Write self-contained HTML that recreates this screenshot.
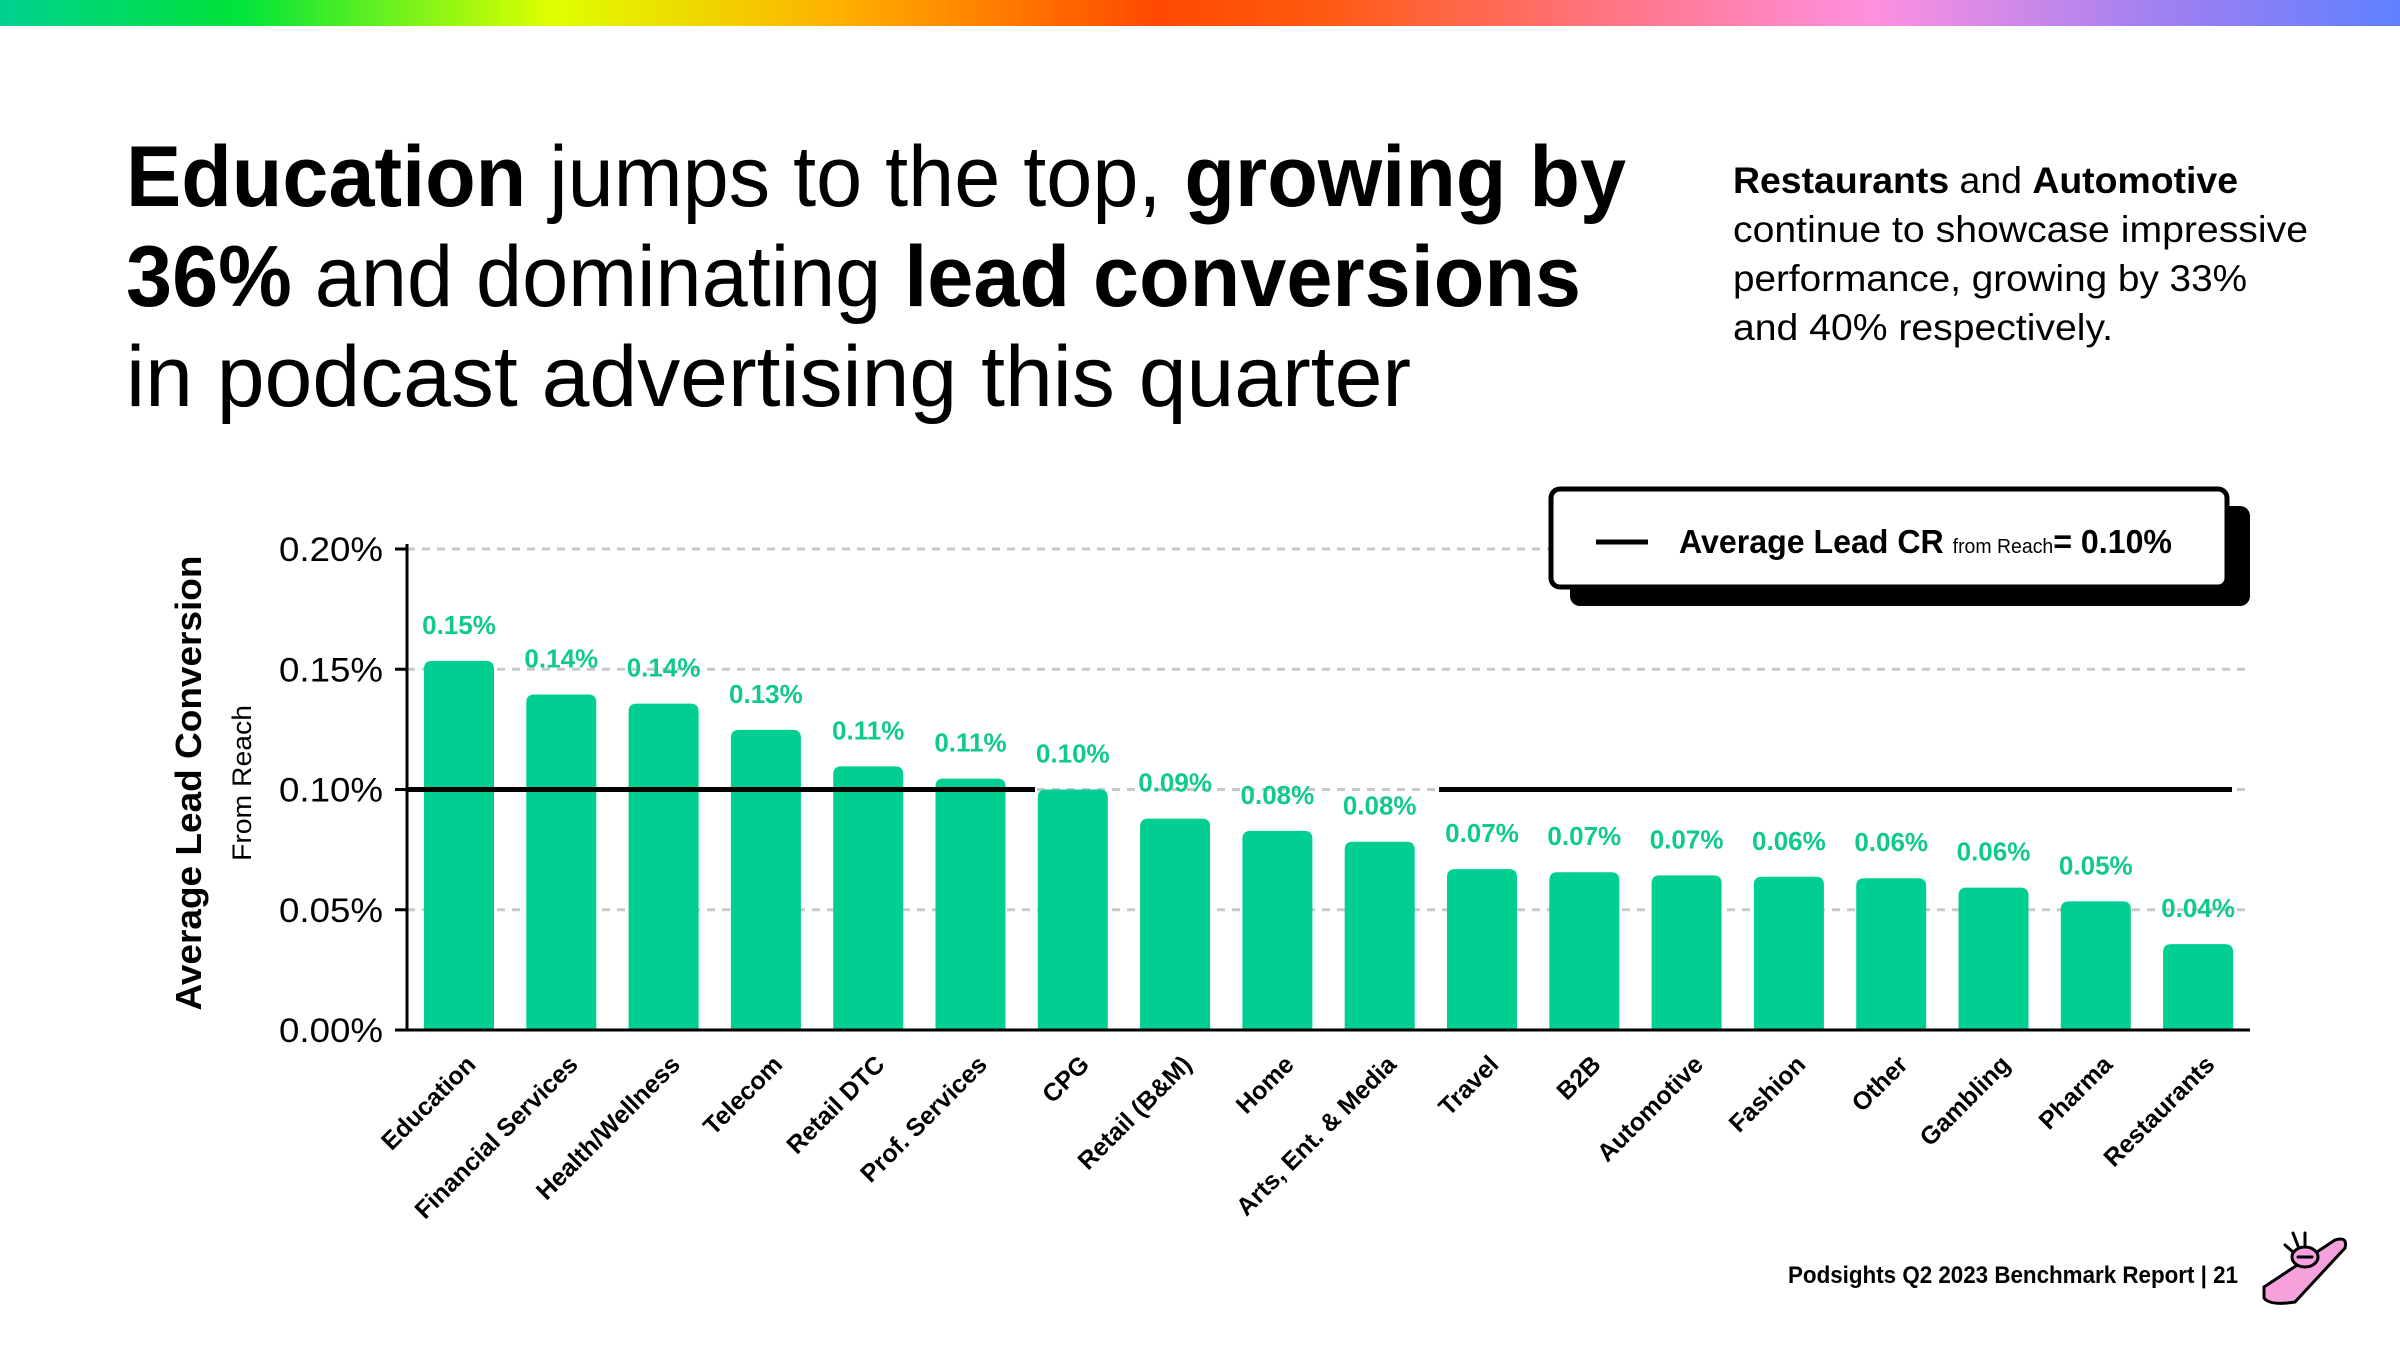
<!DOCTYPE html>
<html><head><meta charset="utf-8"><style>
html,body{margin:0;padding:0;background:#fff;}
body{width:2400px;height:1350px;overflow:hidden;position:relative;font-family:"Liberation Sans",sans-serif;}
svg{position:absolute;left:0;top:0;}
</style></head><body>
<svg id="chart" width="2400" height="1350" viewBox="0 0 2400 1350">
<defs>
<linearGradient id="rb" x1="0" x2="1" y1="0" y2="0">
<stop offset="0" stop-color="#00d08f"/><stop offset="0.1" stop-color="#00e43a"/><stop offset="0.23" stop-color="#dfff00"/><stop offset="0.35" stop-color="#ffb000"/><stop offset="0.48" stop-color="#ff4a00"/><stop offset="0.55" stop-color="#ff5a10"/><stop offset="0.65" stop-color="#ff7070"/><stop offset="0.78" stop-color="#ff90e0"/><stop offset="0.9" stop-color="#a080f0"/><stop offset="1" stop-color="#6080ff"/>
</linearGradient>
</defs>
<rect x="0" y="0" width="2400" height="26" fill="url(#rb)"/>
<g font-size="86" fill="#000">
<text x="126" y="206" textLength="1500" lengthAdjust="spacingAndGlyphs"><tspan font-weight="bold">Education</tspan> jumps to the top, <tspan font-weight="bold">growing by</tspan></text>
<text x="126" y="306" textLength="1455" lengthAdjust="spacingAndGlyphs"><tspan font-weight="bold">36%</tspan> and dominating <tspan font-weight="bold">lead conversions</tspan></text>
<text x="126" y="406" textLength="1285" lengthAdjust="spacingAndGlyphs">in podcast advertising this quarter</text>
</g>
<g font-size="37" fill="#000">
<text x="1733" y="193" textLength="505" lengthAdjust="spacingAndGlyphs"><tspan font-weight="bold">Restaurants</tspan> and <tspan font-weight="bold">Automotive</tspan></text>
<text x="1733" y="242" textLength="575" lengthAdjust="spacingAndGlyphs">continue to showcase impressive</text>
<text x="1733" y="291" textLength="514" lengthAdjust="spacingAndGlyphs">performance, growing by 33%</text>
<text x="1733" y="340" textLength="380" lengthAdjust="spacingAndGlyphs">and 40% respectively.</text>
</g>
<g id="plot"></g>
<g>
<rect x="1570" y="506" width="680" height="100" rx="10" fill="#000"/>
<rect x="1551" y="489" width="676" height="98" rx="9" fill="#fff" stroke="#000" stroke-width="5"/>
<line x1="1596" y1="542" x2="1648" y2="542" stroke="#000" stroke-width="5"/>
<text x="1679" y="553" font-size="33" font-weight="bold" textLength="493" lengthAdjust="spacingAndGlyphs">Average Lead CR <tspan font-size="20" font-weight="normal">from Reach</tspan>= 0.10%</text>
</g>
<text x="2238" y="1283" font-size="24" font-weight="bold" text-anchor="end" textLength="450" lengthAdjust="spacingAndGlyphs">Podsights Q2 2023 Benchmark Report | 21</text>
<g stroke="#000" stroke-width="3" stroke-linecap="round">
<path d="M2264 1287 L2335 1240 Q2348 1236 2345 1248 L2295 1302 Q2270 1306 2264 1298 Z" fill="#f7a1dc"/>
<ellipse cx="2305" cy="1257" rx="13" ry="10" fill="#f7a1dc"/>
<line x1="2298" y1="1257" x2="2312" y2="1257"/>
<line x1="2285" y1="1245" x2="2293" y2="1252"/>
<line x1="2293" y1="1233" x2="2298" y2="1246"/>
<line x1="2305" y1="1233" x2="2305" y2="1245"/>
</g>
</svg>
<script>
const categories = ["Education","Financial Services","Health/Wellness","Telecom","Retail DTC","Prof. Services","CPG","Retail (B&M)","Home","Arts, Ent. & Media","Travel","B2B","Automotive","Fashion","Other","Gambling","Pharma","Restaurants"];
const values = [0.1535,0.1395,0.1357,0.1248,0.1096,0.1045,0.1000,0.0879,0.0828,0.0783,0.0669,0.0656,0.0643,0.0637,0.0631,0.0592,0.0535,0.0357];
const valueLabels = ["0.15%","0.14%","0.14%","0.13%","0.11%","0.11%","0.10%","0.09%","0.08%","0.08%","0.07%","0.07%","0.07%","0.06%","0.06%","0.06%","0.05%","0.04%"];
const yTicks = [0,0.05,0.10,0.15,0.20];
const yTickLabels = ["0.00%","0.05%","0.10%","0.15%","0.20%"];
const average = 0.10;

const NS = "http://www.w3.org/2000/svg";
const plot = document.getElementById("plot");
const X0 = 407, X1 = 2250, Y0 = 1030, Y1 = 549;
const yScale = v => Y0 - (v - 0) / (0.20 - 0) * (Y0 - Y1);
const step = 102.3, firstC = 459, barW = 70;
const xScale = i => firstC + i * step;
function mk(tag, attrs, parent){const e=document.createElementNS(NS,tag);for(const k in attrs)e.setAttribute(k,attrs[k]);(parent||plot).appendChild(e);return e;}

yTicks.forEach((t,i)=>{
  const y=yScale(t);
  if(t>0){const g=mk("line",{x1:X0,x2:X1,y1:y,y2:y,stroke:"#c8c8c8","stroke-width":3,"stroke-dasharray":"8 7"});
  
  }
  const tk=mk("line",{x1:X0-12,x2:X0,y1:y,y2:y,stroke:"#000","stroke-width":3});
  
  
  const tl=mk("text",{x:383,y:y+12,"font-size":34,"text-anchor":"end",textLength:104,lengthAdjust:"spacingAndGlyphs"});
  tl.textContent=yTickLabels[i];
  
  
});

categories.forEach((c,i)=>{
  const cx=xScale(i), top=yScale(values[i]);
  const b=mk("path",{d:`M${cx-barW/2} ${Y0} L${cx-barW/2} ${top+8} Q${cx-barW/2} ${top} ${cx-barW/2+8} ${top} L${cx+barW/2-8} ${top} Q${cx+barW/2} ${top} ${cx+barW/2} ${top+8} L${cx+barW/2} ${Y0} Z`,fill:"#00cf91"});
  
  
  const vl=mk("text",{x:cx,y:top-27,"font-size":26,"font-weight":"bold",fill:"#10c98c","text-anchor":"middle"});
  vl.textContent=valueLabels[i];
  
  
  const xl=mk("text",{x:0,y:0,"font-size":25,"font-weight":"bold","text-anchor":"end",transform:`translate(${cx+18},${1066}) rotate(-45)`});
  xl.textContent=c;
  
  
});

const ay=yScale(average);
const a1=mk("line",{x1:X0,x2:1035,y1:ay,y2:ay,stroke:"#000","stroke-width":5});


const a2=mk("line",{x1:1439,x2:2232,y1:ay,y2:ay,stroke:"#000","stroke-width":5});



const ya=mk("line",{x1:X0,x2:X0,y1:Y1-5,y2:Y0,stroke:"#000","stroke-width":3});


const xa=mk("line",{x1:X0,x2:X1,y1:Y0,y2:Y0,stroke:"#000","stroke-width":3});



const t1=mk("text",{x:0,y:0,"font-size":36,"font-weight":"bold","text-anchor":"middle",transform:"translate(201,783) rotate(-90)",textLength:455,lengthAdjust:"spacingAndGlyphs"});
t1.textContent="Average Lead Conversion";


const t2=mk("text",{x:0,y:0,"font-size":27,"text-anchor":"middle",transform:"translate(251,783) rotate(-90)",textLength:156,lengthAdjust:"spacingAndGlyphs"});
t2.textContent="From Reach";


</script>
</body></html>
